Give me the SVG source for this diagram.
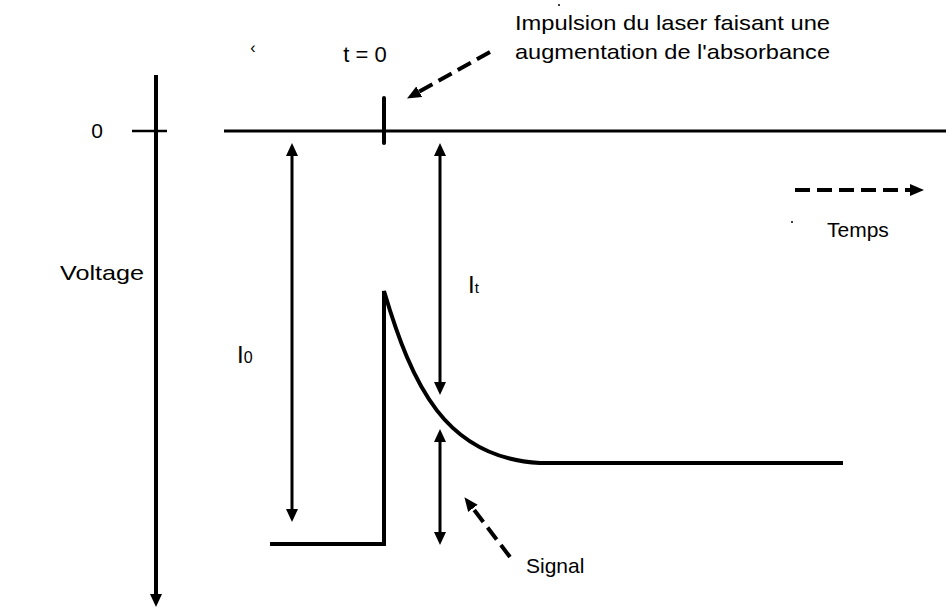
<svg xmlns="http://www.w3.org/2000/svg" width="946" height="610" viewBox="0 0 946 610">
<style>
text{font-family:"Liberation Sans",Arial,sans-serif;fill:#000;}
.lbl{font-size:21px;}
.ln{stroke:#000;fill:none;}
.dash{stroke:#000;stroke-width:4;stroke-dasharray:15 7;fill:none;}
</style>
<defs>
<marker id="ah" markerWidth="13" markerHeight="12" refX="6" refY="6" orient="auto-start-reverse" markerUnits="userSpaceOnUse"><path d="M0,0 L13,6 L0,12 Z" fill="#000"/></marker>
<marker id="ahd" markerWidth="14" markerHeight="12" refX="6" refY="6" orient="auto" markerUnits="userSpaceOnUse"><path d="M0,0 L14,6 L0,12 Z" fill="#000"/></marker>
</defs>
<rect width="946" height="610" fill="#fff"/>
<g id="axis">
<line class="ln" x1="156" y1="75" x2="156" y2="600" stroke-width="4" marker-end="url(#ah)"/>
<line class="ln" x1="132" y1="131" x2="167" y2="131" stroke-width="2.5"/>
<text class="lbl" x="97" y="138" text-anchor="middle">0</text>
<text class="lbl" x="60" y="280" textLength="84" lengthAdjust="spacingAndGlyphs">Voltage</text>
</g>
<g id="baseline">
<line class="ln" x1="224" y1="131" x2="946" y2="131" stroke-width="3"/>
<line class="ln" x1="384" y1="98" x2="384" y2="143" stroke-width="4" stroke-linecap="round"/>
<text x="365" y="62" font-size="22" text-anchor="middle">t = 0</text>
<text x="253" y="53" font-size="16" text-anchor="middle">‹</text>
</g>
<g id="signal-trace">
<path class="ln" d="M270,544 L384,544 L384,291 C412,385 445,458 540,463 L843,463" stroke-width="4"/>
</g>
<g id="connectors">
<line class="ln" x1="292" y1="150" x2="292" y2="515" stroke-width="3" marker-start="url(#ah)" marker-end="url(#ah)"/>
<line class="ln" x1="440" y1="150" x2="440" y2="388" stroke-width="3" marker-start="url(#ah)" marker-end="url(#ah)"/>
<line class="ln" x1="440" y1="436" x2="440" y2="538" stroke-width="3" marker-start="url(#ah)" marker-end="url(#ah)"/>
<line class="dash" x1="490" y1="52" x2="414" y2="94.6" marker-end="url(#ahd)"/>
<line class="dash" x1="795" y1="190" x2="916" y2="190" marker-end="url(#ahd)"/>
<line class="dash" x1="510" y1="557" x2="469.3" y2="503.6" marker-end="url(#ahd)"/>
</g>
<g id="labels">
<text x="237" y="363" font-size="24">I<tspan font-size="16">0</tspan></text>
<text x="468" y="293" font-size="24">I<tspan font-size="15">t</tspan></text>
<text class="lbl" x="515" y="30" textLength="315" lengthAdjust="spacingAndGlyphs">Impulsion du laser faisant une</text>
<text class="lbl" x="515" y="59" textLength="315" lengthAdjust="spacingAndGlyphs">augmentation de l'absorbance</text>
<text x="827" y="237" font-size="21">Temps</text>
<text x="526" y="573" font-size="21">Signal</text>
<circle cx="559" cy="5" r="1" fill="#000"/>
<circle cx="792" cy="222" r="1" fill="#000"/>
</g>
</svg>
